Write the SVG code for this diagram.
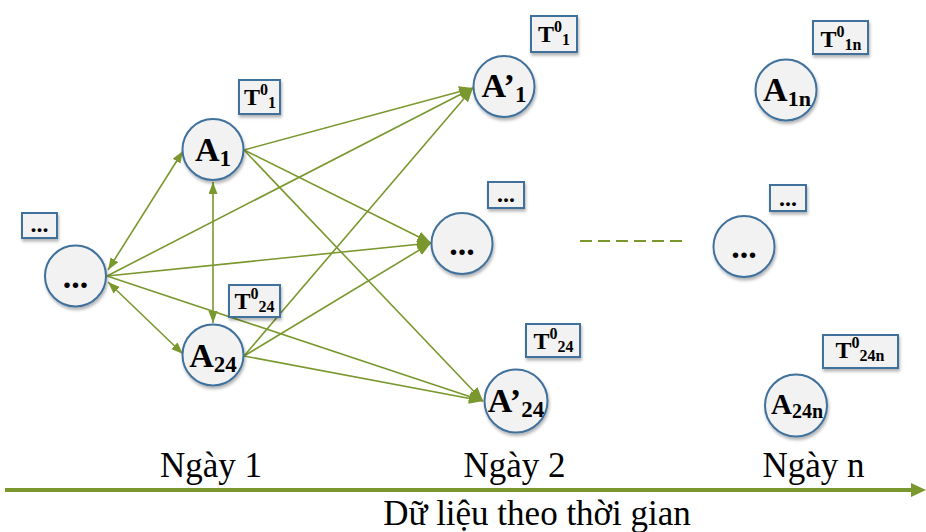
<svg xmlns="http://www.w3.org/2000/svg" width="926" height="532" viewBox="0 0 926 532">
<style>
.node circle{fill:#f2f2f2;stroke:#41719c;stroke-width:2;filter:url(#sh)}
.box rect{fill:#f2f2f2;stroke:#41719c;stroke-width:2;filter:url(#sh)}
.lbl{font-family:"Liberation Serif","Times New Roman",serif;font-weight:bold;fill:#000;text-anchor:middle}
.big{font-size:34px}
.t{font-size:24px}
.cap{font-family:"Liberation Serif","Times New Roman",serif;font-size:35px;fill:#000;text-anchor:middle}
.e{stroke:#7a982e;stroke-width:1.6;fill:none}
.e1{marker-end:url(#ah)}
.e2{marker-start:url(#ah2);marker-end:url(#ah2)}
</style>
<defs>
<filter id="sh" x="-20%" y="-20%" width="150%" height="150%">
<feDropShadow dx="1" dy="2.5" stdDeviation="1.5" flood-color="#000" flood-opacity="0.3"/>
</filter>
<marker id="ah" markerUnits="userSpaceOnUse" markerWidth="15" markerHeight="12" refX="14" refY="5.5" orient="auto">
<path d="M0,0 L14,5.5 L0,11 z" fill="#7a982e"/>
</marker>
<marker id="ah2" markerUnits="userSpaceOnUse" markerWidth="13" markerHeight="10" refX="12" refY="4.5" orient="auto-start-reverse">
<path d="M0,0 L12,4.5 L0,9 z" fill="#7a982e"/>
</marker>
</defs>
<rect width="926" height="532" fill="#fff"/>

<g id="connectors">
<line class="e e2" x1="108" y1="270" x2="183" y2="151"/>
<line class="e e2" x1="108" y1="282" x2="183" y2="354"/>
<line class="e e2" x1="213" y1="182" x2="213" y2="323"/>
<line class="e e1" x1="244" y1="150" x2="473" y2="88"/>
<line class="e e1" x1="244" y1="150" x2="431" y2="243"/>
<line class="e e1" x1="244" y1="150" x2="483" y2="401"/>
<line class="e e1" x1="107" y1="276" x2="473" y2="88"/>
<line class="e e1" x1="107" y1="276" x2="431" y2="243"/>
<line class="e e1" x1="107" y1="276" x2="483" y2="401"/>
<line class="e e1" x1="244" y1="356" x2="473" y2="88"/>
<line class="e e1" x1="244" y1="356" x2="431" y2="243"/>
<line class="e e1" x1="244" y1="356" x2="483" y2="401"/>
<line x1="580" y1="241" x2="684" y2="241" stroke="#7a982e" stroke-width="2" stroke-dasharray="12,6"/>
</g>

<g id="axis">
<line x1="5" y1="490" x2="913" y2="490" stroke="#7a982e" stroke-width="4"/>
<path d="M911,483 L926,490 L911,497 z" fill="#7a982e"/>
</g>

<g id="n_dots_left" class="node"><circle cx="75.5" cy="276" r="30.5"/><text class="lbl big" x="75.5" y="288">...</text></g>
<g id="n_A1" class="node"><circle cx="213" cy="149.5" r="30.5"/><text class="lbl big" x="213" y="161">A<tspan font-size="23" dy="5">1</tspan></text></g>
<g id="n_A24" class="node"><circle cx="213" cy="355" r="30.5"/><text class="lbl big" x="213" y="367">A<tspan font-size="23" dy="5">24</tspan></text></g>
<g id="n_A1p" class="node"><circle cx="504" cy="86.5" r="30.5"/><text class="lbl big" x="504" y="97">A’<tspan font-size="23" dy="5">1</tspan></text></g>
<g id="n_dots_mid" class="node"><circle cx="462" cy="243.5" r="30.5"/><text class="lbl big" x="462" y="255">...</text></g>
<g id="n_A24p" class="node"><circle cx="516" cy="401" r="31.5"/><text class="lbl big" x="516" y="412">A’<tspan font-size="23" dy="5">24</tspan></text></g>
<g id="n_A1n" class="node"><circle cx="786" cy="90" r="30.5"/><text class="lbl big" x="787" y="101">A<tspan font-size="22" dy="5">1n</tspan></text></g>
<g id="n_dots_right" class="node"><circle cx="744" cy="246.5" r="30.5"/><text class="lbl big" x="744" y="258">...</text></g>
<g id="n_A24n" class="node"><circle cx="796" cy="405.5" r="31"/><text class="lbl" font-size="29" x="797" y="414">A<tspan font-size="20" dy="4">24n</tspan></text></g>

<g id="b_dots_left" class="box"><rect x="22" y="213" width="35" height="25"/><text class="lbl" font-size="24" x="39.5" y="232">...</text></g>
<g id="b_T1" class="box"><rect x="239" y="80" width="41" height="34"/><text class="lbl t" x="260" y="105">T<tspan font-size="16" dy="-10">0</tspan><tspan font-size="16" dy="13">1</tspan></text></g>
<g id="b_T24" class="box"><rect x="229" y="285" width="51" height="32"/><text class="lbl t" x="254.5" y="309">T<tspan font-size="16" dy="-10">0</tspan><tspan font-size="16" dy="13">24</tspan></text></g>
<g id="b_T1p" class="box"><rect x="531" y="16" width="46" height="36"/><text class="lbl t" x="554" y="42">T<tspan font-size="16" dy="-10">0</tspan><tspan font-size="16" dy="13">1</tspan></text></g>
<g id="b_dots_mid" class="box"><rect x="488" y="182" width="36" height="26"/><text class="lbl" font-size="24" x="506" y="202">...</text></g>
<g id="b_T24p" class="box"><rect x="526" y="324" width="54" height="33"/><text class="lbl t" x="553.5" y="349">T<tspan font-size="16" dy="-10">0</tspan><tspan font-size="16" dy="13">24</tspan></text></g>
<g id="b_T1n" class="box"><rect x="813" y="21" width="55" height="33"/><text class="lbl t" x="841" y="47">T<tspan font-size="16" dy="-10">0</tspan><tspan font-size="16" dy="13">1n</tspan></text></g>
<g id="b_dots_right" class="box"><rect x="770" y="185" width="36" height="26"/><text class="lbl" font-size="24" x="788" y="206">...</text></g>
<g id="b_T24n" class="box"><rect x="823" y="335" width="75" height="33"/><text class="lbl t" x="860" y="358">T<tspan font-size="16" dy="-10">0</tspan><tspan font-size="16" dy="13">24n</tspan></text></g>

<text class="cap" x="211" y="477">Ngày 1</text>
<text class="cap" x="514.5" y="477">Ngày 2</text>
<text class="cap" x="813.5" y="477">Ngày n</text>
<text class="cap" x="537" y="525">Dữ liệu theo thời gian</text>
</svg>
